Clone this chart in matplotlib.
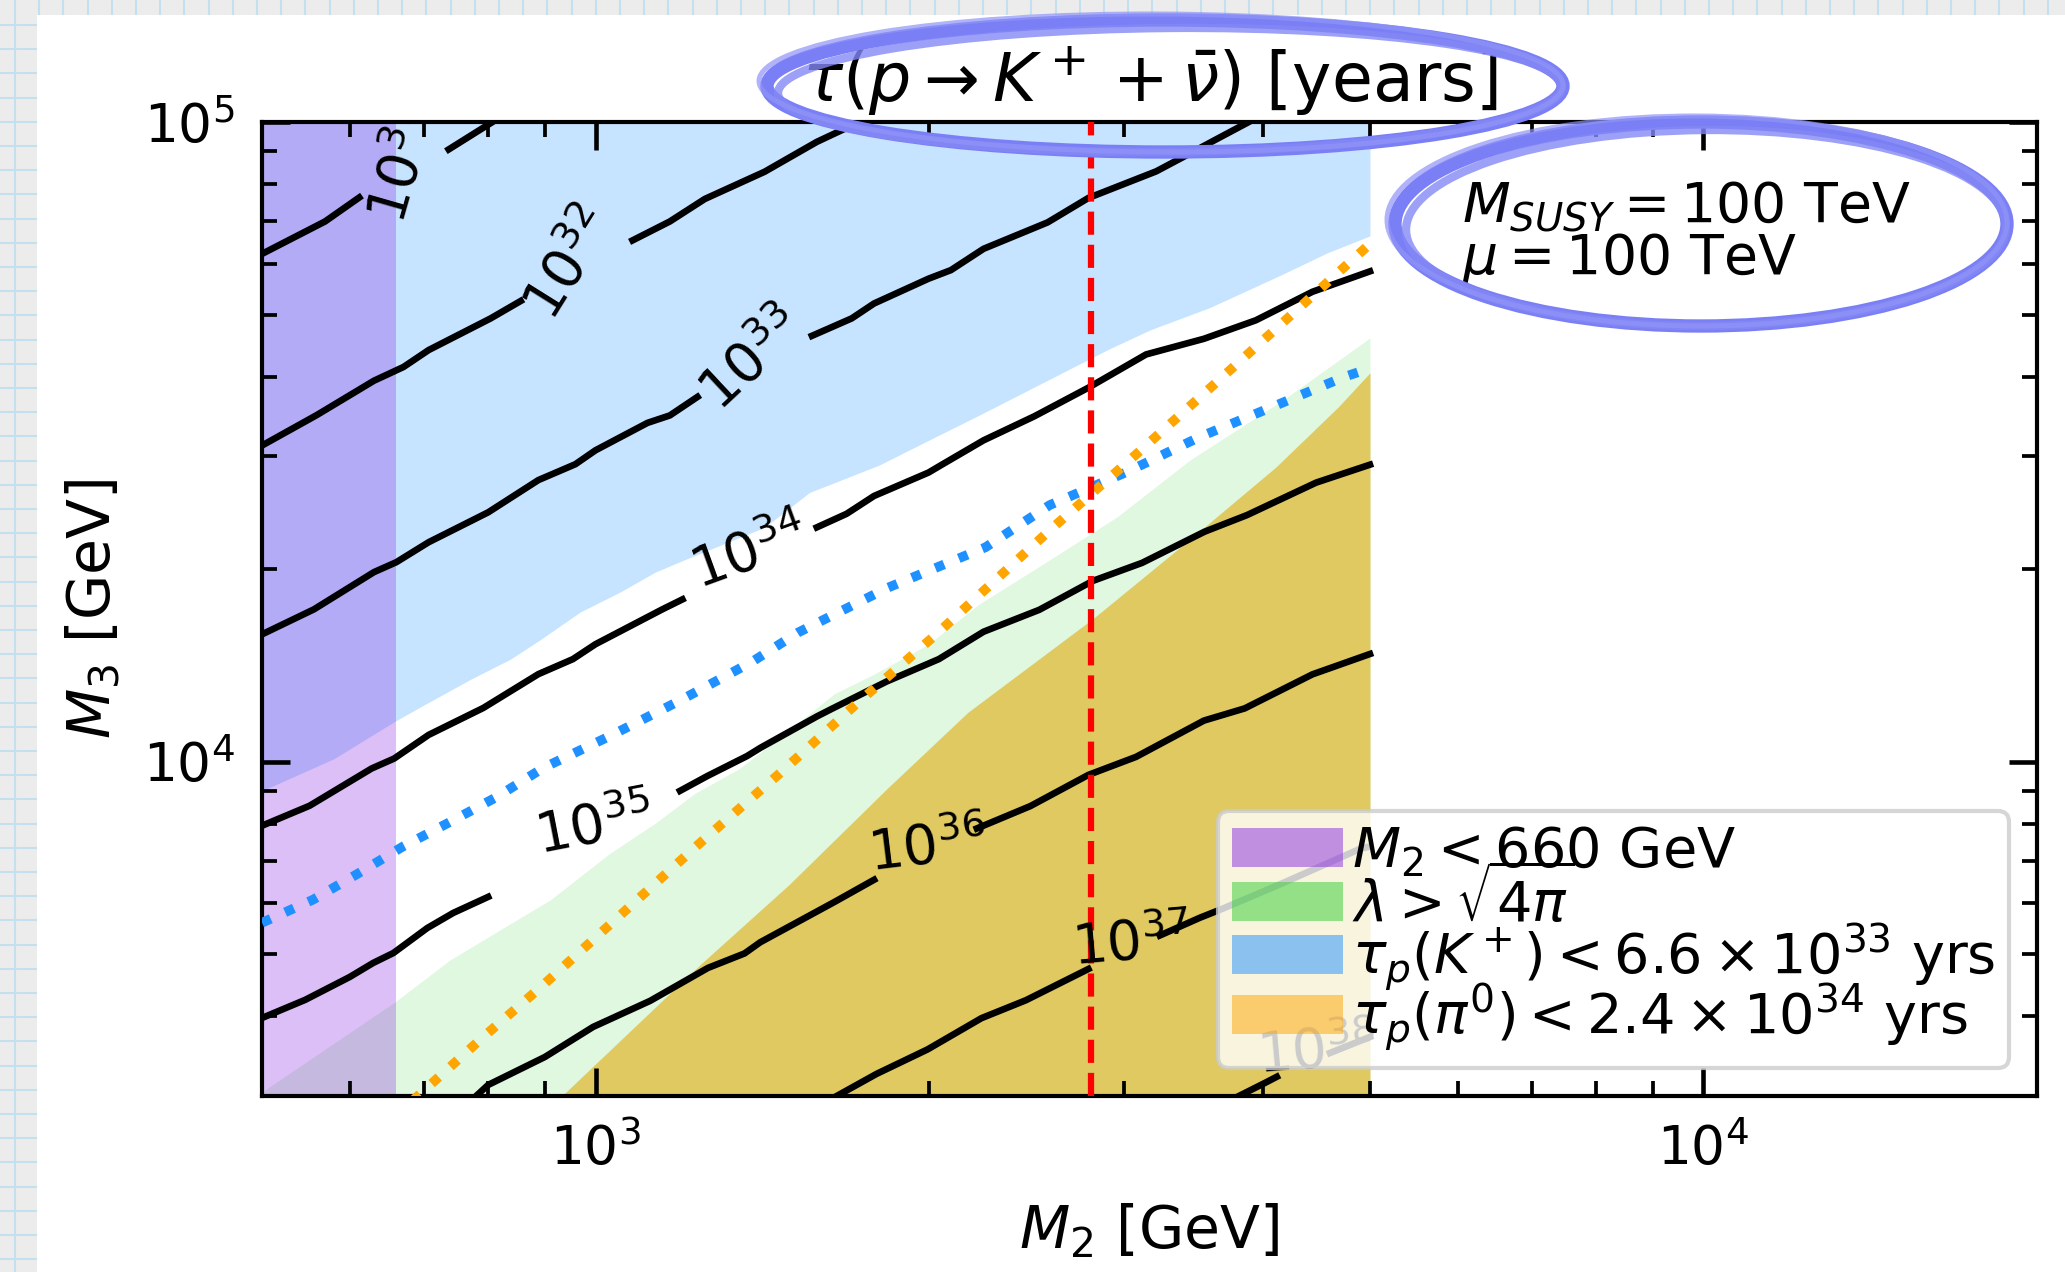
import numpy as np
import matplotlib.pyplot as plt
from matplotlib.patches import Patch, Ellipse, Rectangle
from matplotlib.lines import Line2D

# ranges (GeV)
m2_lim = [500, 20000]
m3_lim = [3000, 1e5]
m2_wino = 660       # M2 < 660 GeV excluded
m2_ref = 2800       # dashed reference line

# lifetime contours tau = 10^N years (M2, M3) in GeV,
# each contour split into pieces where the inline label sits
c31 = [([500, 570, 612], [62200, 69900, 76200]),
       ([737, 822], [90600, 102000])]
c32 = [([500, 560, 631, 671, 707, 804, 856],
        [31200, 34800, 39400, 41400, 44000, 49300, 52500]),
       ([1080, 1167, 1255, 1421, 1584, 1685, 1806],
        [65300, 69900, 75800, 83600, 93100, 97900, 103500])]
c33 = [([500, 557, 631, 661, 707, 800, 888, 959, 1000, 1114, 1167, 1236],
        [15810, 17300, 19780, 20500, 22030, 24530, 27550, 29170, 30670, 33850, 34770, 37170]),
       ([1568, 1703, 1784, 1998, 2093, 2240, 2559, 2785, 3207, 3418, 3641, 3887, 4028],
        [46310, 49310, 52030, 56890, 58670, 63350, 69670, 76070, 83730, 88780, 94150, 100000, 103500])]
c34 = [([500, 552, 628, 658, 707, 792, 888, 954, 1000, 1149, 1198],
        [7938, 8530, 9755, 10110, 11010, 12130, 13700, 14460, 15260, 17300, 17930]),
       ([1584, 1685, 1784, 1998, 2051, 2240, 2489, 2785, 3140, 3541, 3944, 4437, 5000],
        [23240, 24400, 26020, 28310, 29080, 31790, 34660, 38420, 43310, 45820, 48970, 54270, 58410])]
c35 = [([500, 547, 600, 630, 657, 705, 744, 800],
        [3973, 4241, 4605, 4844, 5020, 5493, 5799, 6144]),
       ([1192, 1262, 1370, 1409, 1585, 1634, 1831, 2041, 2240, 2515, 2812, 3114, 3546, 3873, 4471, 5000],
        [9000, 9496, 10200, 10510, 11770, 12090, 13340, 14460, 15960, 17270, 19170, 20450, 22880, 24290, 27300, 29120])]
c36 = [([768, 800, 900, 995, 1120, 1263, 1363, 1408, 1642, 1784],
        [2925, 3122, 3452, 3847, 4225, 4757, 5012, 5217, 6029, 6534]),
       ([2209, 2469, 2785, 3075, 3541, 3854, 4437, 5000],
        [7861, 8520, 9531, 10170, 11590, 12110, 13690, 14730])]
c37 = [([1604, 1793, 1994, 2230, 2446, 2785],
        [2918, 3248, 3548, 3970, 4235, 4739]),
       ([3231, 3512, 3680, 4151, 4906, 5000],
        [5347, 5700, 5887, 6432, 7312, 7365])]
c38 = [([3699, 4019, 4120], [2925, 3144, 3215]),
       ([4602, 5000], [3503, 3711])]
levels = [31, 32, 33, 34, 35, 36, 37, 38]
contours = [c31, c32, c33, c34, c35, c36, c37, c38]

# tau_p(K+) < 6.6e33 region: lower edge, filled up to the top
blue_m2 = [500, 581, 659, 703, 772, 838, 893, 969, 1053, 1132, 1204, 1421, 1560, 1803,
           1998, 2217, 2530, 2895, 3165, 3587, 4169, 4571, 5000]
blue_m3 = [9000, 10110, 11560, 12310, 13460, 14460, 15540, 17140, 18420, 19780, 20690, 23240,
           26350, 29080, 31790, 34770, 39070, 44010, 47300, 51300, 57800, 62390, 66370]

# lambda > sqrt(4 pi) region: upper edge, filled down to the bottom
green_m2 = [500, 659, 739, 820, 910, 1031, 1132, 1229, 1349, 1481, 1642, 1784, 1998,
            2217, 2530, 2956, 3440, 4174, 5000]
green_m3 = [3044, 4208, 4895, 5455, 6076, 7193, 8008, 8916, 9755, 11050, 12760, 13700,
            15260, 17610, 20320, 24130, 29610, 36760, 45960]

# tau_p(pi0) < 2.4e34 region: upper edge
gold_m2 = [923, 1243, 1496, 1834, 2168, 2812, 3448, 4113, 4683, 5000]
gold_m3 = [2951, 4815, 6427, 9083, 11940, 16730, 22340, 28880, 35870, 40530]

# dotted bound lines
kdot_m2 = [500, 556, 612, 670, 740, 815, 897, 1030, 1191, 1384, 1524, 1837, 2249,
           2570, 3020, 3516, 4064, 4732, 5000]
kdot_m3 = [5598, 6083, 6700, 7364, 8055, 8810, 9775, 10960, 12450, 14320, 15920, 18710,
           21630, 25180, 28390, 32220, 35740, 39900, 41220]
pidot_m2 = [684, 792, 897, 1242, 1466, 1720, 2030, 2572, 3050, 3587, 4217, 5000]
pidot_m3 = [2951, 3711, 4474, 7455, 9580, 12310, 15810, 23020, 29830, 38380, 49400, 64470]

legend_labels = [r"$M_2 < 660$ GeV",
                 r"$\lambda > \sqrt{4\pi}$",
                 r"$\tau_p(K^+) < 6.6 \times 10^{33}$ yrs",
                 r"$\tau_p(\pi^0) < 2.4 \times 10^{34}$ yrs"]

# where the contour labels go: (M2, M3, rotation)
label_place = [(672, 85690, 74), (949, 59720, 58), (1387, 42190, 43), (1377, 21050, 20),
               (997, 7889, 11), (1994, 7309, 7), (3042, 5176, 5), (4477, 3506, 5)]

W, H = 2065, 1272
fig = plt.figure(figsize=(W / 300, H / 300), dpi=300, facecolor="#ececec")

# graph-paper backdrop
for gx in np.arange(15, W, 24.2):
    fig.add_artist(Line2D([gx / W, gx / W], [0, 1], color="#c4e0ee", lw=0.5, zorder=-3))
for gy in np.arange(25, H, 24.2):
    fig.add_artist(Line2D([0, 1], [1 - gy / H, 1 - gy / H], color="#c4e0ee", lw=0.5, zorder=-3))
fig.add_artist(Rectangle((37 / W, 0), 1, 1 - 15 / H, transform=fig.transFigure,
                         facecolor="white", edgecolor="none", zorder=-2))

ax = fig.add_axes([262 / W, 1 - 1096 / H, 1775 / W, 974 / H])
ax.set_xscale("log")
ax.set_yscale("log")
ax.set_xlim(m2_lim)
ax.set_ylim(m3_lim)

ax.fill_between(green_m2, green_m3, m3_lim[0] * 0.9, color="limegreen", alpha=0.15, lw=0, zorder=1)
ax.fill_between(blue_m2, blue_m3, m3_lim[1] * 1.1, color="dodgerblue", alpha=0.25, lw=0, zorder=1)
ax.fill_between(gold_m2, gold_m3, m3_lim[0] * 0.9, color="#dfc960", lw=0, zorder=1.1)
ax.axvspan(m2_lim[0], m2_wino, color="blueviolet", alpha=0.3, lw=0, zorder=1.2)

for segs in contours:
    for m2, m3 in segs:
        ax.plot(m2, m3, color="k", lw=1.6, zorder=2)

for lev, (x, y, rot) in zip(levels, label_place):
    ax.text(x, y, r"$10^{%d}$" % lev, rotation=rot, rotation_mode="anchor",
            ha="center", va="center", fontsize=13.2, clip_on=True, zorder=4)

ax.plot(kdot_m2, kdot_m3, ":", color="dodgerblue", lw=2.3, zorder=3)
ax.plot(pidot_m2, pidot_m3, ":", color="orange", lw=2.3, zorder=3)
ax.axvline(m2_ref, color="red", ls="--", lw=1.5, zorder=3.5)

ax.tick_params(which="both", direction="in", top=True, right=True, labelsize=12.8, pad=6.5)
ax.tick_params(which="major", length=6.7, width=1.1)
ax.tick_params(which="minor", length=3.6, width=0.9)
for s in ax.spines.values():
    s.set_linewidth(1.0)

ax.set_xlabel(r"$M_2$ [GeV]", fontsize=14, labelpad=6)
ax.set_ylabel(r"$M_3$ [GeV]", fontsize=14, labelpad=5)
ax.set_title(r"$\tau(p \rightarrow K^+ + \bar{\nu})$ [years]", fontsize=16, pad=5)

ax.text(0.676, 0.897, r"$M_{SUSY} = 100$ TeV", transform=ax.transAxes, fontsize=13.3, va="baseline")
ax.text(0.676, 0.844, r"$\mu = 100$ TeV", transform=ax.transAxes, fontsize=13.3, va="baseline")

handles = [Patch(facecolor=c, alpha=0.5, edgecolor="none")
           for c in ["blueviolet", "limegreen", "dodgerblue", "orange"]]
leg = ax.legend(handles, legend_labels, loc="lower right", fontsize=13.4, handletextpad=0.15,
                borderpad=0.25, labelspacing=-0.22)
leg.set_zorder(6)

# hand-drawn style rings
for cx, cy, w, h in [(1165, 86, 796, 132), (1701, 224, 612, 204)]:
    fig.add_artist(Ellipse((cx / W, 1 - cy / H), w / W, h / H, transform=fig.transFigure,
                           fill=False, edgecolor="#7b7ff5", lw=3.2, zorder=10))
    fig.add_artist(Ellipse(((cx + 5) / W, 1 - (cy + 4) / H), (w - 12) / W, (h - 8) / H,
                           angle=0.8, transform=fig.transFigure, fill=False,
                           edgecolor="#8488f6", lw=2.0, alpha=0.8, zorder=10))
    fig.add_artist(Ellipse(((cx - 4) / W, 1 - (cy - 3) / H), (w + 8) / W, (h + 6) / H,
                           angle=-0.5, transform=fig.transFigure, fill=False,
                           edgecolor="#8f93f7", lw=1.2, alpha=0.7, zorder=10))

fig.savefig("out.png", dpi=300, facecolor=fig.get_facecolor())
